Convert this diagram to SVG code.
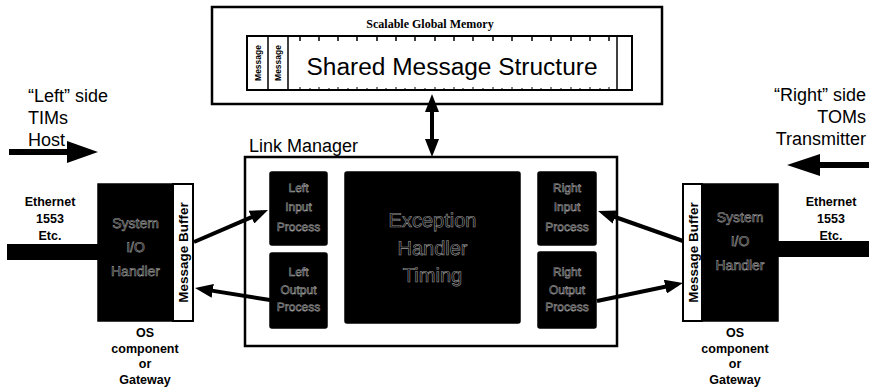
<svg xmlns="http://www.w3.org/2000/svg" width="869" height="387" viewBox="0 0 869 387">
<defs>
<style>
.bg{fill:#fff}
.box{fill:#fff;stroke:#000;stroke-width:2.5}
.inner{fill:#fff;stroke:#000;stroke-width:2}
.dark{fill:#000;stroke:#000;stroke-width:1.5}
.strip{fill:#fff;stroke:#000;stroke-width:2}
.big{font-family:"Liberation Sans",Arial,sans-serif;font-size:18px;fill:#000}
.lbl{font-family:"Liberation Sans",Arial,sans-serif;font-size:12.5px;font-weight:bold;fill:#000;text-anchor:middle}
.buf{font-family:"Liberation Sans",Arial,sans-serif;font-size:13.5px;font-weight:bold;fill:#000;text-anchor:middle}
.msg{font-family:"Liberation Sans",Arial,sans-serif;font-size:8.5px;font-weight:bold;fill:#000;text-anchor:middle}
.ghost{font-family:"Liberation Sans",Arial,sans-serif;fill:none;stroke:#9a9a9a;stroke-width:0.6;text-anchor:middle;text-rendering:geometricPrecision}
.conn{stroke:#000;stroke-width:4;fill:none}
.tick{stroke:#000;stroke-width:1.5}
</style>
<marker id="ah" markerUnits="userSpaceOnUse" markerWidth="18" markerHeight="14" refX="12" refY="7" orient="auto-start-reverse">
<path d="M0,0 L18,7 L0,14 z" fill="#000"/>
</marker>
</defs>
<rect class="bg" x="0" y="0" width="869" height="387"/>

<g id="memory">
<rect class="box" x="212" y="7" width="450" height="97"/>
<text x="430" y="28" text-anchor="middle" font-family="Liberation Serif,'Times New Roman',serif" font-size="12" font-weight="bold">Scalable Global Memory</text>
<rect class="inner" x="247" y="36" width="385" height="54"/>
<line class="tick" x1="268" y1="36" x2="268" y2="90"/>
<line class="tick" x1="288" y1="36" x2="288" y2="90"/>
<line class="tick" x1="617" y1="36" x2="617" y2="90"/>
<path class="tick" d="M300,36v5M319,36v5M338,36v5M357,36v5M377,36v5M396,36v5M415,36v5M435,36v5M454,36v5M473,36v5M493,36v5M512,36v5M532,36v5M551,36v5M571,36v5M590,36v5M609,36v5"/>
<path stroke="#000" stroke-width="1" d="M300,90v-3M310,90v-2M319,90v-3M329,90v-2M338,90v-3M348,90v-2M357,90v-3M367,90v-2M377,90v-3M386,90v-2M396,90v-3M405,90v-2M415,90v-3M425,90v-2M435,90v-3M444,90v-2M454,90v-3M463,90v-2M473,90v-3M483,90v-2M493,90v-3M502,90v-2M512,90v-3M522,90v-2M532,90v-3M541,90v-2M551,90v-3M561,90v-2M571,90v-3M580,90v-2M590,90v-3M600,90v-2M609,90v-3"/>
<text class="msg" transform="translate(260.5,63) rotate(-90)">Message</text>
<text class="msg" transform="translate(281,63) rotate(-90)">Message</text>
<text x="452" y="75" text-anchor="middle" font-family="Liberation Sans,Arial,sans-serif" font-size="23" textLength="291" lengthAdjust="spacingAndGlyphs">Shared Message Structure</text>
</g>

<g id="left-label">
<text class="big" x="28" y="102">“Left” side</text>
<text class="big" x="28" y="124">TIMs</text>
<text class="big" x="28" y="146">Host</text>
</g>

<g id="right-label">
<text class="big" x="866" y="101" text-anchor="end">“Right” side</text>
<text class="big" x="866" y="123" text-anchor="end">TOMs</text>
<text class="big" x="866" y="145" text-anchor="end">Transmitter</text>
</g>

<g id="link-manager">
<text class="big" x="249" y="152">Link Manager</text>
<rect class="box" x="245" y="157" width="372" height="189"/>
</g>

<g id="left-input">
<rect class="dark" x="270" y="172" width="57" height="73" rx="2"/>
<text class="ghost" font-size="12"><tspan x="298.5" y="192">Left</tspan><tspan x="298.5" y="211">Input</tspan><tspan x="298.5" y="231">Process</tspan></text>
</g>

<g id="left-output">
<rect class="dark" x="270" y="253" width="57" height="75" rx="2"/>
<text class="ghost" font-size="12"><tspan x="298.5" y="276">Left</tspan><tspan x="298.5" y="294">Output</tspan><tspan x="298.5" y="311">Process</tspan></text>
</g>

<g id="exception-handler">
<rect class="dark" x="345" y="172" width="175" height="151" rx="2"/>
<text class="ghost" font-size="20"><tspan x="432.5" y="227">Exception</tspan><tspan x="432.5" y="255">Handler</tspan><tspan x="432.5" y="282">Timing</tspan></text>
</g>

<g id="right-input">
<rect class="dark" x="538" y="172" width="58" height="73" rx="2"/>
<text class="ghost" font-size="12"><tspan x="567" y="192">Right</tspan><tspan x="567" y="211">Input</tspan><tspan x="567" y="231">Process</tspan></text>
</g>

<g id="right-output">
<rect class="dark" x="538" y="252" width="58" height="76" rx="2"/>
<text class="ghost" font-size="12"><tspan x="567" y="276">Right</tspan><tspan x="567" y="294">Output</tspan><tspan x="567" y="311">Process</tspan></text>
</g>

<g id="left-system">
<rect x="7" y="244" width="92" height="16" fill="#000"/>
<rect class="dark" x="98" y="184" width="75" height="137"/>
<rect class="strip" x="173" y="184" width="20" height="137"/>
<text class="buf" transform="translate(188,252.5) rotate(-90)">Message Buffer</text>
<text class="ghost" font-size="14"><tspan x="135.5" y="228">System</tspan><tspan x="135.5" y="252">I/O</tspan><tspan x="135.5" y="276">Handler</tspan></text>
<text class="lbl"><tspan x="50" y="206">Ethernet</tspan><tspan x="50" y="223">1553</tspan><tspan x="50" y="240">Etc.</tspan></text>
<text class="lbl"><tspan x="145" y="337">OS</tspan><tspan x="145" y="353">component</tspan><tspan x="145" y="368">or</tspan><tspan x="145" y="384">Gateway</tspan></text>
</g>

<g id="right-system">
<rect x="777" y="241" width="92" height="16" fill="#000"/>
<rect class="dark" x="702" y="184" width="76" height="137"/>
<rect class="strip" x="683" y="184" width="19" height="137"/>
<text class="buf" transform="translate(697.5,252.5) rotate(-90)">Message Buffer</text>
<text class="ghost" font-size="14"><tspan x="740" y="222">System</tspan><tspan x="740" y="246">I/O</tspan><tspan x="740" y="270">Handler</tspan></text>
<text class="lbl"><tspan x="831" y="206">Ethernet</tspan><tspan x="831" y="223">1553</tspan><tspan x="831" y="240">Etc.</tspan></text>
<text class="lbl"><tspan x="735" y="337">OS</tspan><tspan x="735" y="353">component</tspan><tspan x="735" y="368">or</tspan><tspan x="735" y="384">Gateway</tspan></text>
</g>

<g id="connectors">
<line class="conn" stroke-width="3" x1="432" y1="100" x2="432" y2="151" marker-start="url(#ah)" marker-end="url(#ah)"/>
<line class="conn" x1="194" y1="242" x2="262.5" y2="212.4" marker-end="url(#ah)"/>
<line class="conn" x1="270" y1="300" x2="200.9" y2="288.9" marker-end="url(#ah)"/>
<line class="conn" x1="683" y1="241" x2="603.7" y2="213" marker-end="url(#ah)"/>
<line class="conn" x1="597" y1="301" x2="677.1" y2="284.2" marker-end="url(#ah)"/>
<path d="M9,149 H67 V141 L98,152 L67,163 V155 H9 Z" fill="#000"/>
<path d="M869,162 H820 V154 L787,165 L820,176 V168 H869 Z" fill="#000"/>
</g>
</svg>
